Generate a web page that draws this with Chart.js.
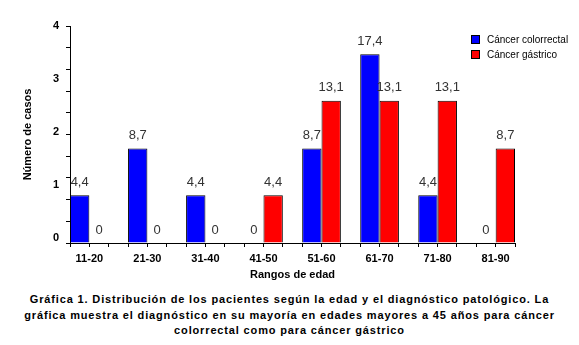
<!DOCTYPE html>
<html>
<head>
<meta charset="utf-8">
<script src="https://cdn.jsdelivr.net/npm/chart.js@4.4.1/dist/chart.umd.min.js"></script>
<style>
  html, body { margin: 0; padding: 0; background: #fff; }
  #wrap { position: relative; width: 579px; height: 345px; font-family: "Liberation Sans", Arial, sans-serif; }
  #chart { position: absolute; left: 0; top: 0; }
  #legend { position: absolute; left: 471px; top: 32px; font-size: 10px; color: #000; }
  #legend .item { display: flex; align-items: center; height: 15px; }
  #legend .box { width: 7px; height: 7px; border: 1px solid #000; margin-right: 7px; }
  #caption { position: absolute; left: 0; top: 292px; width: 579px; text-align: center;
             font-weight: bold; font-size: 11px; letter-spacing: 0.85px; line-height: 15.5px; color: #000; }
</style>
</head>
<body>
<div id="wrap">
  <canvas id="chart" width="579" height="290"></canvas>
  <div id="legend"></div>
  <div id="caption">Gráfica 1. Distribución de los pacientes según la edad y el diagnóstico patológico. La<br>gráfica muestra el diagnóstico en su mayoría en edades mayores a 45 años para cáncer<br>colorrectal como para cáncer gástrico</div>
</div>
<script>
// Data (bar heights are the percentages printed above each bar)
const categories = ["11-20", "21-30", "31-40", "41-50", "51-60", "61-70", "71-80", "81-90"];
const colorrectal = [4.4, 8.7, 4.4, 0, 8.7, 17.4, 4.4, 0];
const gastrico = [0, 0, 0, 4.4, 13.1, 13.1, 13.1, 8.7];
const caseTicks = [0, 1, 2, 3, 4];
const seriesNames = ["Cáncer colorrectal", "Cáncer gástrico"];
const seriesColors = ["#0000ff", "#ff0000"];

const boldFont = { family: '"Liberation Sans", Arial, sans-serif', size: 11, weight: "bold" };
const fmtPct = (v) => (v === 0 ? "0" : String(v).replace(".", ","));

// percentage labels above the bars
const valueLabels = {
  id: "valueLabels",
  afterDatasetsDraw(chart) {
    const ctx = chart.ctx;
    ctx.save();
    ctx.font = '13px "Liberation Sans", Arial, sans-serif';
    ctx.fillStyle = "#333";
    ctx.textAlign = "center";
    ctx.textBaseline = "middle";
    chart.data.datasets.forEach((ds, di) => {
      chart.getDatasetMeta(di).data.forEach((bar, i) => {
        ctx.fillText(fmtPct(ds.data[i].y), bar.x, bar.y - 13);
      });
    });
    ctx.restore();
  },
};

const toPoints = (arr) => arr.map((v, i) => ({ x: i, y: v }));

const chart = new Chart(document.getElementById("chart"), {
  type: "bar",
  data: {
    datasets: [
      { label: seriesNames[0], data: toPoints(colorrectal), backgroundColor: seriesColors[0] },
      { label: seriesNames[1], data: toPoints(gastrico), backgroundColor: seriesColors[1] },
    ],
  },
  options: {
    responsive: false,
    animation: false,
    layout: { padding: { top: 26, right: 64, bottom: 2, left: 0 } },
    datasets: {
      bar: { categoryPercentage: 2 / 3, barPercentage: 1, borderWidth: 1, borderColor: "#000" },
    },
    plugins: { legend: { display: false }, tooltip: { enabled: false } },
    scales: {
      // category labels + title
      x: {
        type: "linear",
        position: "bottom",
        offset: false,
        weight: 1,
        min: -1 / 3,
        max: categories.length - 1 + 1 / 3,
        afterBuildTicks: (s) => { s.ticks = categories.map((c, i) => ({ value: i })); },
        afterFit: (s) => { s.height = 41; },
        ticks: {
          autoSkip: false, maxRotation: 0, padding: 5, color: "#000", font: boldFont,
          callback: (v) => categories[Math.round(v)],
        },
        grid: { display: false, drawTicks: false, offset: false },
        border: { display: false },
        title: { display: true, text: "Rangos de edad", color: "#000", font: boldFont, padding: { top: 0, bottom: 6 } },
      },
      // axis line with small tick marks
      xMarks: {
        type: "linear",
        position: "bottom",
        offset: false,
        weight: 0,
        min: -1 / 3,
        max: categories.length - 1 + 1 / 3,
        afterBuildTicks: (s) => {
          s.ticks = [];
          for (let k = 0; k <= categories.length * 3 - 1; k++) s.ticks.push({ value: -1 / 3 + k / 3 });
        },
        afterFit: (s) => { s.height = 4; },
        ticks: { display: false },
        grid: { drawOnChartArea: false, tickLength: 4, color: "#000", offset: false },
        border: { color: "#000", width: 1 },
      },
      // bar scale (percent), only tick marks shown
      y: {
        position: "left",
        weight: 0,
        min: 0,
        max: 20,
        afterFit: (s) => { s.width = 4; },
        ticks: { display: false, stepSize: 2 },
        grid: { drawOnChartArea: false, tickLength: 4, color: "#000" },
        border: { color: "#000", width: 1 },
      },
      // "Número de casos" labels
      y2: {
        position: "left",
        weight: 1,
        min: -0.1,
        max: 4,
        afterBuildTicks: (s) => { s.ticks = caseTicks.map((v) => ({ value: v })); },
        afterFit: (s) => { s.width = 66; },
        ticks: { padding: 7, color: "#000", font: boldFont },
        grid: { display: false, drawTicks: false },
        border: { display: false },
        title: { display: true, text: "Número de casos", color: "#000", font: boldFont, padding: { top: 21, bottom: 0 } },
      },
    },
  },
  plugins: [valueLabels],
});

// HTML legend
const legendEl = document.getElementById("legend");
chart.data.datasets.forEach((ds) => {
  const item = document.createElement("div");
  item.className = "item";
  const box = document.createElement("span");
  box.className = "box";
  box.style.background = ds.backgroundColor;
  const txt = document.createElement("span");
  txt.textContent = ds.label;
  item.appendChild(box);
  item.appendChild(txt);
  legendEl.appendChild(item);
});
</script>
</body>
</html>
